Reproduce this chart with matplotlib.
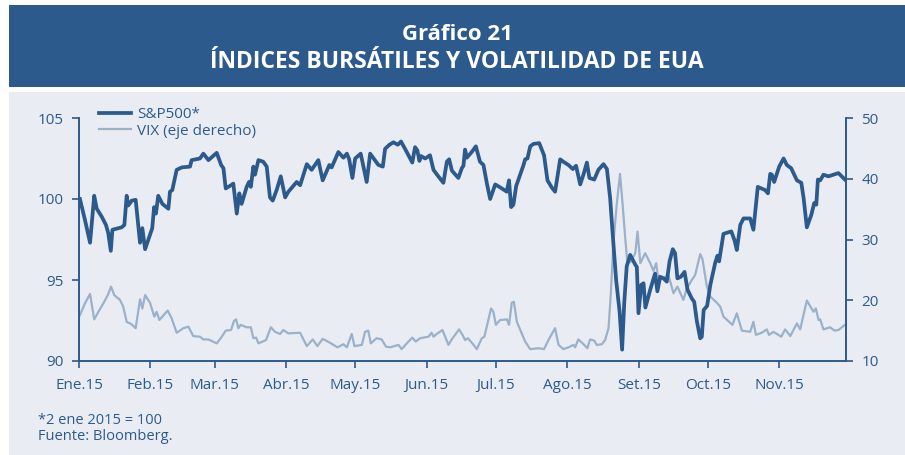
import pandas as pd
import matplotlib.pyplot as plt
from matplotlib.patches import Rectangle

azul = "#2c5a8c"
azul_claro = "#9bb1c9"
fondo = "#e9edf3"

# dias desde el 1 ene 2015 / valores
sp_dias = [0.4, 2.6, 4.8, 6.6, 7.7, 9.9, 11.7, 12.7, 13.8, 14.5, 18.5, 19.7, 20.7, 21.4, 22.9,
           24.6, 26.5, 27.5, 28.7, 31.8, 32.6, 33.4, 34.4, 36.2, 38.8, 39.5, 40.5, 42.4, 44.6,
           48.2, 48.9, 52.5, 54.0, 56.2, 59.8, 61.7, 62.7, 63.7, 66.0, 67.0, 68.5, 69.6, 70.6,
           72.8, 73.8, 74.6, 75.7, 76.4, 77.9, 80.0, 81.5, 82.9, 84.1, 85.8, 87.6, 89.5, 90.9,
           94.5, 96.0, 98.9, 101.0, 103.9, 105.8, 108.7, 109.7, 112.6, 114.8, 116.3, 117.3,
           118.7, 119.9, 122.3, 124.9, 126.4, 130.0, 131.9, 132.9, 134.8, 136.5, 138.4, 139.8,
           142.3, 144.7, 145.9, 146.9, 147.8, 148.5, 150.3, 152.4, 153.9, 156.0, 158.2, 159.7,
           160.7, 161.9, 164.7, 166.2, 166.9, 167.6, 168.4, 170.5, 172.3, 174.1, 175.6, 177.1,
           178.5, 180.7, 183.6, 185.7, 186.7, 187.6, 188.6, 189.8, 193.0, 193.7, 194.7, 195.9,
           197.3, 199.8, 201.9, 203.4, 205.3, 206.7, 208.9, 210.3, 212.5, 214.4, 215.8, 217.6,
           219.0, 220.5, 221.6, 223.7, 225.5, 227.7, 229.2, 230.6, 231.8, 233.2, 234.7, 235.8,
           236.7, 237.8, 239.3, 241.5, 242.2, 242.9, 244.1, 245.1, 245.9, 248.0, 250.1, 251.1,
           252.3, 253.8, 255.2, 256.4, 257.8, 258.8, 259.8, 261.3, 262.9, 264.2, 266.1, 267.1,
           268.2, 269.7, 270.4, 271.2, 272.7, 274.1, 276.2, 277.2, 277.9, 279.8, 283.2, 284.6,
           285.6, 287.1, 288.5, 291.4, 292.8, 294.7, 297.9, 299.1, 300.1, 300.8, 301.8, 304.0,
           305.9, 307.3, 309.2, 311.7, 313.6, 314.6, 316.0, 317.9, 319.2, 320.1, 320.8, 321.8,
           323.2, 325.4, 327.5, 329.7, 332.9]
sp500 = [100.0, 98.7, 97.3, 100.2, 99.4, 98.9, 98.4, 97.9, 96.8, 98.1, 98.25, 98.4, 100.2, 99.6,
         99.9, 99.95, 97.3, 98.2, 96.9, 98.2, 99.5, 99.1, 100.2, 99.7, 99.4, 100.45, 100.55,
         101.8, 101.95, 102.0, 102.4, 102.5, 102.8, 102.4, 102.85, 102.1, 101.9, 100.65, 100.85,
         100.95, 99.1, 100.35, 99.7, 100.75, 101.05, 100.75, 102.0, 101.5, 102.4, 102.3, 102.0,
         100.1, 99.9, 100.55, 101.4, 100.1, 100.45, 101.05, 100.85, 102.15, 101.8, 102.4, 101.15,
         102.1, 101.95, 102.9, 102.55, 102.8, 102.45, 101.3, 102.5, 102.8, 101.05, 102.8, 102.1,
         102.0, 103.1, 103.35, 103.5, 103.35, 103.55, 102.9, 102.25, 103.2, 103.0, 102.35,
         102.65, 102.5, 102.7, 101.8, 101.4, 101.0, 102.3, 102.45, 101.75, 101.3, 101.9, 102.05,
         103.05, 102.55, 102.9, 103.25, 102.3, 102.1, 100.95, 100.0, 100.9, 100.65, 100.45,
         101.15, 99.5, 99.65, 100.8, 102.1, 102.45, 102.5, 103.25, 103.4, 103.45, 102.7, 101.15,
         100.7, 100.45, 102.45, 102.3, 102.1, 101.85, 102.05, 100.9, 101.5, 102.25, 101.3, 101.2,
         101.8, 102.15, 101.85, 100.05, 97.65, 95.0, 93.05, 90.7, 93.55, 95.85, 96.55, 95.95,
         95.8, 92.95, 94.7, 94.8, 93.3, 94.4, 95.4, 94.3, 95.2, 95.1, 94.9, 96.15, 96.9, 96.65,
         95.1, 95.2, 95.5, 94.4, 93.85, 93.65, 92.5, 91.4, 91.5, 93.15, 93.4, 94.7, 96.05, 96.5,
         96.15, 97.85, 98.0, 97.45, 96.85, 98.4, 98.8, 98.8, 98.1, 100.75, 100.55, 100.35,
         101.55, 101.5, 101.05, 102.0, 102.5, 102.1, 101.9, 101.15, 101.0, 100.05, 98.25, 99.0,
         99.75, 99.65, 101.2, 101.15, 101.5, 101.4, 101.5, 101.6, 101.15]

vix_dias = [0.4, 2.6, 4.8, 6.6, 8.4, 10.6, 12.5, 13.9, 15.3, 17.8, 19.2, 20.7, 22.6, 24.6, 26.5,
            27.5, 28.7, 30.8, 32.7, 33.7, 34.9, 38.5, 40.2, 42.4, 45.3, 47.5, 49.6, 52.5, 54.0,
            56.2, 59.8, 62.0, 63.7, 66.0, 67.3, 68.2, 69.2, 70.2, 72.8, 74.6, 75.7, 76.9, 77.9,
            81.2, 83.3, 85.1, 87.3, 88.7, 90.9, 96.0, 98.9, 101.5, 103.5, 105.8, 109.0, 112.2,
            114.8, 116.3, 118.4, 119.6, 122.8, 124.2, 125.6, 126.7, 129.2, 131.4, 133.3, 135.1,
            138.7, 140.1, 142.3, 144.7, 146.2, 148.1, 151.7, 153.1, 153.9, 155.3, 157.8, 160.4,
            161.8, 165.0, 166.5, 167.6, 168.8, 170.8, 172.7, 174.9, 176.0, 178.9, 179.9, 181.0,
            182.8, 185.8, 186.7, 187.9, 188.8, 190.1, 193.7, 195.9, 199.5, 201.9, 203.8, 206.7,
            208.2, 210.3, 212.5, 214.7, 215.4, 216.8, 218.7, 220.7, 221.9, 223.7, 224.8, 227.0,
            228.4, 229.9, 230.9, 232.0, 233.5, 234.9, 236.1, 237.1, 238.1, 239.6, 241.5, 242.5,
            243.7, 245.8, 248.0, 249.4, 250.6, 251.6, 253.5, 255.9, 258.1, 259.8, 262.4, 263.9,
            266.1, 267.5, 269.7, 270.7, 272.6, 274.1, 276.9, 278.4, 279.8, 283.7, 285.6, 287.8,
            291.4, 292.8, 293.9, 296.4, 298.6, 299.6, 301.5, 304.9, 306.6, 308.8, 311.7, 313.1,
            316.0, 318.9, 319.9, 321.1, 321.8, 323.2, 326.1, 328.0, 329.7, 332.9]
vix = [17.55, 19.5, 21.05, 16.85, 18.1, 19.5, 20.85, 22.25, 20.85, 20.05, 18.95, 16.45, 16.1,
       15.4, 20.15, 18.65, 20.85, 19.6, 17.3, 18.1, 16.75, 18.3, 17.05, 14.65, 15.4, 15.65, 14.1,
       14.0, 13.55, 13.55, 12.9, 14.0, 15.0, 15.1, 16.6, 16.85, 15.4, 15.95, 15.55, 15.55, 13.75,
       13.85, 12.9, 13.45, 15.55, 14.8, 14.45, 15.1, 14.55, 14.65, 12.45, 13.55, 12.45, 13.65,
       13.0, 12.25, 12.75, 12.25, 14.45, 12.45, 12.65, 14.8, 15.0, 12.9, 13.75, 13.55, 12.35,
       12.25, 12.65, 11.95, 12.9, 13.85, 13.2, 13.75, 14.0, 14.65, 14.0, 14.45, 15.1, 12.65,
       13.55, 15.2, 14.3, 13.45, 13.75, 12.9, 11.95, 13.75, 14.0, 18.65, 18.1, 15.95, 16.75,
       16.85, 15.95, 19.6, 19.75, 16.45, 13.2, 11.95, 12.1, 11.95, 13.45, 15.4, 12.65, 11.95,
       12.25, 12.65, 12.25, 13.55, 12.9, 12.1, 13.55, 13.35, 12.65, 12.75, 13.45, 15.4, 21.15,
       29.35, 35.95, 40.8, 35.4, 30.45, 26.1, 26.35, 27.75, 31.3, 26.1, 27.75, 26.1, 24.85, 26.1,
       23.2, 23.6, 24.15, 21.15, 22.25, 20.05, 21.95, 23.35, 24.15, 27.6, 26.75, 22.25, 20.6,
       19.6, 18.95, 17.3, 15.95, 17.85, 15.0, 14.8, 16.45, 14.3, 14.65, 15.2, 14.3, 14.8, 14.0,
       15.2, 14.1, 16.2, 15.2, 19.95, 18.1, 18.65, 16.75, 16.85, 15.2, 15.55, 15.0, 15.1, 16.05]

meses = ["Ene.15", "Feb.15", "Mar.15", "Abr.15", "May.15", "Jun.15", "Jul.15", "Ago.15",
         "Set.15", "Oct.15", "Nov.15"]

inicio = pd.Timestamp("2015-01-01")
sp_fechas = inicio + pd.to_timedelta(sp_dias, unit="D")
vix_fechas = inicio + pd.to_timedelta(vix_dias, unit="D")

plt.rcParams["font.family"] = ["Open Sans", "DejaVu Sans"]

fig = plt.figure(figsize=(9.05, 4.55), dpi=100)
# panel gris y banda del titulo
fig.patches.append(Rectangle((9 / 905, 0.0), 1.0, 1 - 92 / 455, transform=fig.transFigure,
                             facecolor=fondo, edgecolor="none", zorder=-10))
fig.patches.append(Rectangle((9 / 905, 1 - 87 / 455), 1.0, 82 / 455, transform=fig.transFigure,
                             facecolor=azul, edgecolor="none", zorder=-10))
fig.text(0.505, 1 - 35 / 455, "Gráfico 21", color="white", fontsize=16, fontweight="bold",
         ha="center", va="center")
fig.text(0.505, 1 - 62 / 455, "ÍNDICES BURSÁTILES Y VOLATILIDAD DE EUA", color="white",
         fontsize=16.5, fontweight="bold", ha="center", va="center")

ax = fig.add_axes([79 / 905, 1 - 361 / 455, (846 - 79) / 905, (361 - 118) / 455])
ax2 = ax.twinx()
ax.set_zorder(ax2.get_zorder() + 1)
ax.patch.set_visible(False)
ax2.patch.set_visible(False)

l2, = ax2.plot(vix_fechas, vix, color=azul_claro, lw=1.6, label="VIX (eje derecho)")
l1, = ax.plot(sp_fechas, sp500, color=azul, lw=2.7, label="S&P500*")

ax.set_ylim(90, 105)
ax.set_yticks([90, 95, 100, 105])
ax2.set_ylim(10, 50)
ax2.set_yticks([10, 20, 30, 40, 50])
ax.set_xlim(inicio, pd.Timestamp("2015-11-30"))
ax.set_xticks(pd.date_range("2015-01-01", "2015-11-01", freq="MS"))
ax.set_xticklabels(meses)

for a in (ax, ax2):
    for s in a.spines.values():
        s.set_color(azul)
        s.set_linewidth(1.2)
    a.spines["top"].set_visible(False)
    a.tick_params(colors=azul, labelcolor=azul, labelsize=11, length=5, width=1.2)
ax.tick_params(axis="x", pad=7)
ax.tick_params(axis="y", pad=6)
ax2.tick_params(axis="y", pad=6)

ax.legend([l1, l2], ["S&P500*", "VIX (eje derecho)"], loc="upper left",
          bbox_to_anchor=(0.0175, 1.07), frameon=False, fontsize=11, handlelength=2.1,
          handletextpad=0.45, labelcolor=azul, labelspacing=0.1, borderaxespad=0)

fig.text(38 / 905, 1 - 420 / 455, "*2 ene 2015 = 100", color=azul, fontsize=10.5, va="center")
fig.text(38 / 905, 1 - 437 / 455, "Fuente: Bloomberg.", color=azul, fontsize=10.5, va="center")

fig.savefig("out.png", dpi=100)
